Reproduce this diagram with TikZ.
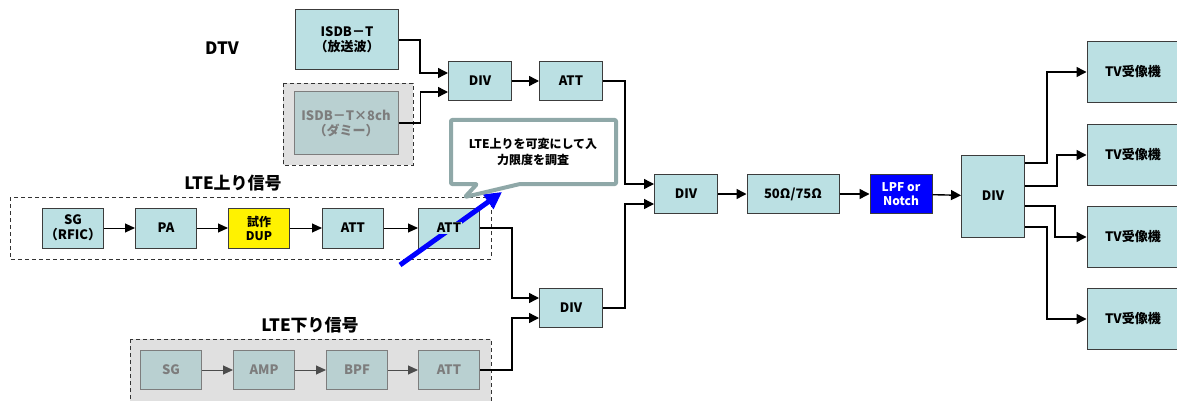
\documentclass[tikz,border=0pt]{standalone}
\usepackage{fontspec}
\setmainfont{Noto Sans CJK JP}
\usetikzlibrary{arrows.meta}

\definecolor{boxfill}{RGB}{187,224,227}
\definecolor{boxline}{RGB}{60,60,60}
\definecolor{dumfill}{RGB}{224,224,224}
\definecolor{dumbox}{RGB}{185,208,209}
\definecolor{dumtext}{RGB}{125,125,125}
\definecolor{callline}{RGB}{143,168,168}
\definecolor{lpfblue}{RGB}{0,0,255}

\begin{document}
\begin{tikzpicture}[x=1pt, y=-1pt,
  blk/.style={rectangle, draw=boxline, line width=1pt, fill=boxfill, minimum width=63pt, minimum height=39pt, inner sep=0pt, align=center, font=\fontsize{13}{15}\selectfont\bfseries},
  dumblk/.style={blk, draw=dumtext, fill=dumbox, text=dumtext},
  frm/.style={draw=black!80, dashed, line width=0.8pt, dash pattern=on 4pt off 3pt},
  ttl/.style={font=\fontsize{17}{20}\selectfont\bfseries},
  conn/.style={-{Triangle[length=10pt, width=10pt]}, line width=1.4pt},
  thin/.style={-{Triangle[length=10pt, width=9pt]}, line width=1pt},
  gconn/.style={thin, draw=black!70, fill=black!70}]
\useasboundingbox (0,0) rectangle (1177,401);

% DTV
\node[ttl] (dtv) at (222,48) {DTV};
\node[blk, minimum width=103pt, minimum height=60pt] (isdb) at (347,40) {ISDB－T\\（放送波）};
\draw[frm, fill=dumfill] (283,83) rectangle (413,165);
\node[dumblk, minimum width=104pt, minimum height=63pt] (isdbd) at (346,123) {ISDB－T×8ch\\（ダミー）};
\node[blk] (div1) at (480,81) {DIV};
\node[blk] (att1) at (571,81) {ATT};

% LTE up
\node[ttl] (uplbl) at (233,183) {LTE上り信号};
\draw[frm] (10,197) rectangle (491,259);
\node[blk, minimum width=61pt, minimum height=40pt] (sg) at (73,228) {SG\\（RFIC）};
\node[blk, minimum width=61pt, minimum height=40pt] (pa) at (166,228) {PA};
\node[blk, minimum width=61pt, minimum height=40pt, fill=yellow, font=\fontsize{12}{14}\selectfont\bfseries] (dup) at (259,228) {試作\\DUP};
\node[blk, minimum width=61pt, minimum height=40pt] (att4) at (353,228) {ATT};
\node[blk, minimum width=61pt, minimum height=40pt] (att5) at (449,228) {ATT};

% LTE down
\node[ttl] (dnlbl) at (310,325) {LTE下り信号};
\draw[frm, fill=dumfill] (130,339) rectangle (491,410);
\node[dumblk, minimum width=61pt] (dsg) at (171,370) {SG};
\node[dumblk, minimum width=61pt] (damp) at (264,370) {AMP};
\node[dumblk, minimum width=61pt] (dbpf) at (357,370) {BPF};
\node[dumblk, minimum width=61pt] (datt) at (449,370) {ATT};

% combining and output
\node[blk] (div2) at (571,308) {DIV};
\node[blk] (div3) at (686,194) {DIV};
\node[blk, minimum width=92pt] (ohm) at (793,194) {50Ω/75Ω};
\node[blk, minimum width=62pt, fill=lpfblue, text=white, font=\fontsize{12}{14}\selectfont\bfseries] (lpf) at (901,194) {LPF or\\Notch};
\node[blk, minimum height=82pt] (div4) at (993,196) {DIV};
\node[blk, minimum width=92pt, minimum height=61pt] (tv1) at (1133,72) {TV受像機};
\node[blk, minimum width=92pt, minimum height=61pt] (tv2) at (1133,155) {TV受像機};
\node[blk, minimum width=92pt, minimum height=61pt] (tv3) at (1133,237) {TV受像機};
\node[blk, minimum width=92pt, minimum height=61pt] (tv4) at (1133,319) {TV受像機};

% connections
\draw[conn] (isdb.east) -| (420,73) -- ([yshift=8pt]div1.west);
\draw[conn] (isdbd.east) -- ++(22,0) |- ([yshift=-11pt]div1.west);
\draw[conn] (div1) -- (att1);
\draw[conn] (att1.east) -- ++(22,0) |- ([yshift=10pt]div3.west);
\draw[thin] (sg) -- (pa);
\draw[thin] (pa) -- (dup);
\draw[thin] (dup) -- (att4);
\draw[thin] (att4) -- (att5);
\draw[conn] (att5.east) -- ++(32,0) |- ([yshift=10pt]div2.west);
\draw[gconn] (dsg) -- (damp);
\draw[gconn] (damp) -- (dbpf);
\draw[gconn] (dbpf) -- (datt);
\draw[conn] (datt.east) -- ++(32,0) |- ([yshift=-10pt]div2.west);
\draw[conn] (div2.east) -- ++(22,0) |- ([yshift=-10pt]div3.west);
\draw[conn] (div3) -- (ohm);
\draw[conn] (ohm) -- (lpf);
\draw[conn] (lpf) -- (div4);
\draw[conn] ([yshift=33pt]div4.east) -- ++(22,0) |- (tv1);
\draw[conn] ([yshift=10pt]div4.east) -- ++(32,0) |- (tv2);
\draw[conn] ([yshift=-10pt]div4.east) -- ++(30,0) |- (tv3);
\draw[conn] ([yshift=-31pt]div4.east) -- ++(22,0) |- (tv4);

% variable input note
\coordinate (bstart) at (400,265);
\coordinate (btip) at (502,192);
\draw[-{Triangle[length=17pt, width=17pt]}, line width=5pt, lpfblue] (bstart) -- (btip);
\node[fill=boxfill, inner sep=1pt, font=\fontsize{13}{15}\selectfont\bfseries] (att5txt) at (att5) {ATT};
\draw[callline, line width=4pt, fill=white, line join=round, rounded corners=1pt]
  (451,120) -- (616,120) -- (616,184) -- (520,184) -- (465,197) -- (477,184) -- (451,184) -- cycle;
\node[align=center, font=\fontsize{12}{16}\selectfont\bfseries] (note) at (533,152) {LTE上りを可変にして入\\力限度を調査};
\end{tikzpicture}
\end{document}
